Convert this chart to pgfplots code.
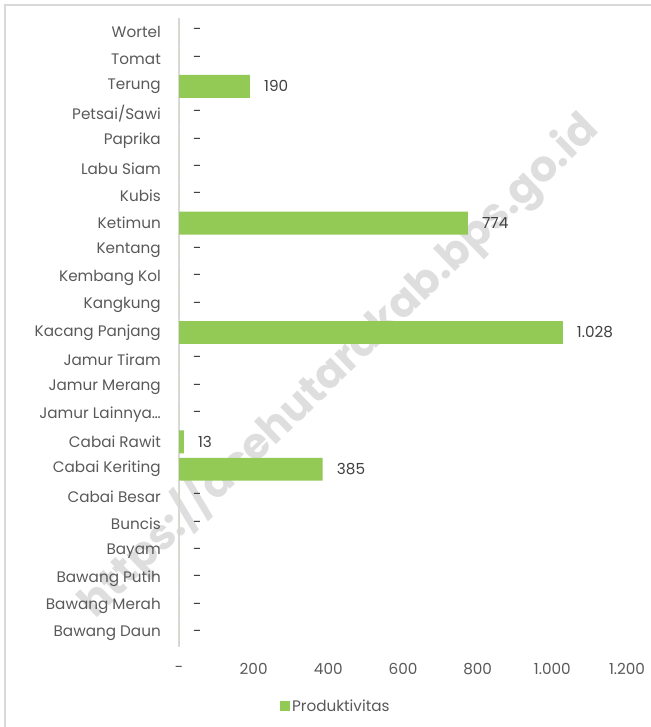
\documentclass[border=0pt]{standalone}
\usepackage{fontspec}
\setmainfont{Poppins}
\usepackage{pgfplots}
\pgfplotsset{compat=1.18}
\usepackage{pgfplotstable}
\definecolor{bargreen}{HTML}{93C955}
\definecolor{txt}{HTML}{595959}
\definecolor{valtxt}{HTML}{404040}
\definecolor{axgray}{HTML}{D9D9D9}
\definecolor{wm}{HTML}{DEDEDE}

\pgfplotstableread{
y x lab
0 0 -
1 0 -
2 190 190
3 0 -
4 0 -
5 0 -
6 0 -
7 774 774
8 0 -
9 0 -
10 0 -
11 1028 1.028
12 0 -
13 0 -
14 0 -
15 13 13
16 385 385
17 0 -
18 0 -
19 0 -
20 0 -
21 0 -
22 0 -
}\datatable

\begin{document}
\begin{tikzpicture}[x=1bp,y=1bp]
\useasboundingbox (0,0) rectangle (651,727);
\draw[axgray, line width=1.5bp] (5,-5) -- (5,722) -- (660,722);
\node[rotate=44, text=wm, font=\fontsize{43}{46}\selectfont\bfseries] at (338,362) {https://acehutarakab.bps.go.id};
\begin{axis}[
  at={(179bp,80bp)}, anchor=south west,
  scale only axis, width=448bp, height=629bp,
  xmin=0, xmax=1200, ymin=-0.5, ymax=22.5, y dir=reverse,
  axis y line*=left, axis x line*=bottom,
  x axis line style={draw=none},
  y axis line style={axgray, line width=1.5bp},
  major tick length=0,
  xtick={0,200,400,600,800,1000,1200},
  xticklabels={-,200,400,600,800,1.000,1.200},
  ytick={0,...,22},
  yticklabels={Wortel,Tomat,Terung,Petsai/Sawi,Paprika,Labu Siam,Kubis,Ketimun,Kentang,Kembang Kol,Kangkung,Kacang Panjang,Jamur Tiram,Jamur Merang,Jamur Lainnya…,Cabai Rawit,Cabai Keriting,Cabai Besar,Buncis,Bayam,Bawang Putih,Bawang Merah,Bawang Daun},
  tick label style={font=\fontsize{15.3}{17}\selectfont, text=txt},
  yticklabel style={anchor=east, inner sep=0pt, xshift=-18bp},
  xticklabel style={anchor=center, inner sep=0pt, yshift=-22bp},
  xbar, bar width=0.84,
  nodes near coords,
  point meta=explicit symbolic,
  nodes near coords style={anchor=west, inner sep=0pt, xshift=14bp, font=\fontsize{15.3}{17}\selectfont, text=valtxt},
  legend style={draw=none, at={(0.350,-0.094)}, anchor=center, font=\fontsize{15.3}{17}\selectfont, text=txt, inner sep=0pt},
  legend image code/.code={\fill[bargreen] (0bp,-5bp) rectangle (10bp,5bp);},
]
\addplot[fill=bargreen, draw=none] table[x=x, y=y, meta=lab] {\datatable};
\addlegendentry{Produktivitas}
\end{axis}
\end{tikzpicture}
\end{document}
